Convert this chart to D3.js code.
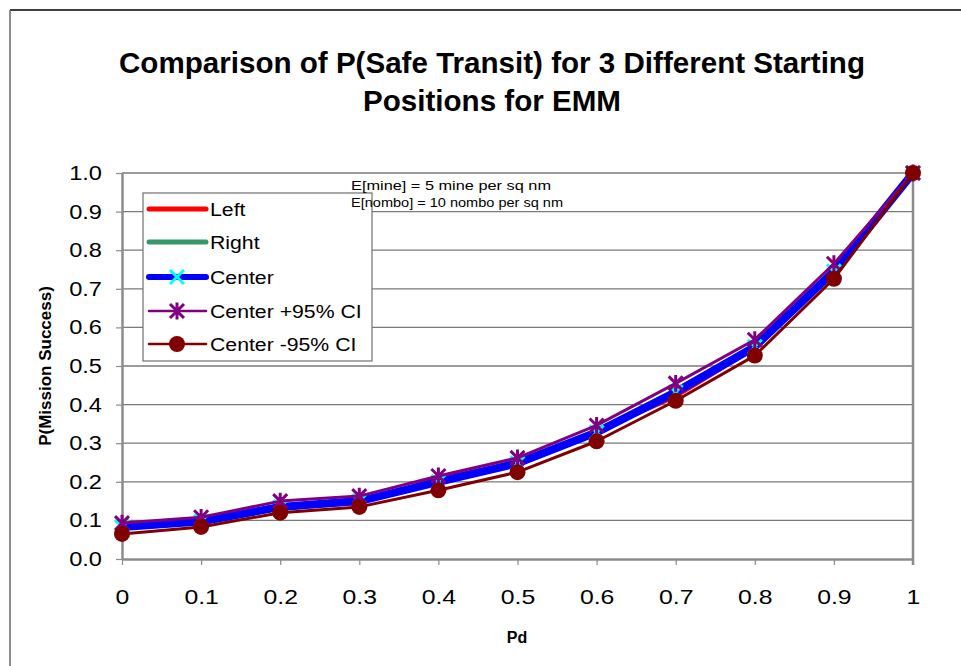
<!DOCTYPE html>
<html><head><meta charset="utf-8">
<script src="https://cdn.jsdelivr.net/npm/d3@7"></script>
<style>body{margin:0;background:#fff}svg{display:block}text{font-family:"Liberation Sans",Arial,sans-serif}</style>
</head><body>
<script>
const pdValues = [0, 0.1, 0.2, 0.3, 0.4, 0.5, 0.6, 0.7, 0.8, 0.9, 1];
const xTickLabels = ["0","0.1","0.2","0.3","0.4","0.5","0.6","0.7","0.8","0.9","1"];
const yTickValues = [0,0.1,0.2,0.3,0.4,0.5,0.6,0.7,0.8,0.9,1.0];
const seriesNames = ["Left","Right","Center","Center +95% CI","Center -95% CI"];
const leftValues   = [0.080, 0.095, 0.130, 0.145, 0.210, 0.250, 0.330, 0.420, 0.545, 0.740, 1.0];
const rightValues  = [0.085, 0.100, 0.140, 0.155, 0.200, 0.255, 0.335, 0.440, 0.555, 0.750, 1.0];
const centerValues = [0.083, 0.097, 0.135, 0.150, 0.200, 0.248, 0.328, 0.432, 0.550, 0.745, 1.0];
const upperValues  = [0.093, 0.108, 0.150, 0.163, 0.215, 0.262, 0.346, 0.455, 0.568, 0.765, 1.0];
const lowerValues  = [0.065, 0.083, 0.120, 0.135, 0.178, 0.225, 0.305, 0.410, 0.527, 0.726, 1.0];
const titleLines = ["Comparison of P(Safe Transit) for 3 Different Starting","Positions for EMM"];
const noteLines = ["E[mine] = 5 mine per sq nm","E[nombo] = 10 nombo per sq nm"];

const styles = [
  {color:"#ff0000", w:3.5, lw:5, marker:null},
  {color:"#339966", w:3, lw:5, marker:null},
  {color:"#0000ff", w:8, lw:6, marker:"x", mcolor:"#00ffff"},
  {color:"#800080", w:3, lw:2.5, marker:"star", mcolor:"#800080"},
  {color:"#800000", w:3, lw:2.5, marker:"circle", mcolor:"#800000"}
];
const allValues = [leftValues,rightValues,centerValues,upperValues,lowerValues];

const W=961,H=666, SX=1.18;
const svg=d3.select("body").append("svg").attr("width",W).attr("height",H);
function stretch(sel,f){sel.each(function(){const l=this.getComputedTextLength();d3.select(this).attr("textLength",l*f).attr("lengthAdjust","spacingAndGlyphs");});}

// frame
svg.append("line").attr("x1",10).attr("x2",W).attr("y1",10).attr("y2",10).attr("stroke","#000").attr("stroke-width",1.5);
svg.append("line").attr("x1",10).attr("x2",10).attr("y1",10).attr("y2",H).attr("stroke","#666").attr("stroke-width",1.5);

const x=d3.scaleLinear().domain([0,1]).range([122,913]);
const y=d3.scaleLinear().domain([0,1]).range([559,173]);

// title
svg.selectAll("text.title").data(titleLines).join("text").attr("class","title")
  .attr("x",492).attr("y",(d,i)=>73+i*38).attr("text-anchor","middle")
  .attr("font-size",29).attr("font-weight","bold").text(d=>d)
  .each(function(d,i){d3.select(this).attr("textLength",i===0?746:258).attr("lengthAdjust","spacingAndGlyphs");});

// gridlines
svg.append("g").selectAll("line").data(yTickValues.slice(1)).join("line")
  .attr("x1",x(0)).attr("x2",x(1)).attr("y1",d=>y(d)).attr("y2",d=>y(d))
  .attr("stroke","#7a7a7a").attr("stroke-width",1.3);
// right border
svg.append("line").attr("x1",x(1)).attr("x2",x(1)).attr("y1",y(1)).attr("y2",y(0)+6).attr("stroke","#8c8c8c").attr("stroke-width",2.5);

// axes
const xAxis=d3.axisBottom(x).tickValues(pdValues).tickFormat((d,i)=>xTickLabels[i]).tickSize(6).tickSizeOuter(0);
const gx=svg.append("g").attr("transform",`translate(0,${y(0)})`).call(xAxis);
gx.select(".domain").attr("stroke","#8c8c8c").attr("stroke-width",2.5);
gx.selectAll(".tick line").attr("stroke","#8c8c8c").attr("stroke-width",1.2);
gx.selectAll(".tick text").attr("font-size",21).attr("fill","#000").attr("y",30).attr("dy","0.71em").attr("font-family","Liberation Sans, Arial, sans-serif").call(stretch,SX);

const yAxis=d3.axisLeft(y).tickValues(yTickValues).tickFormat(d3.format(".1f")).tickSize(6).tickSizeOuter(0);
const gy=svg.append("g").attr("transform",`translate(${x(0)},0)`).call(yAxis);
gy.select(".domain").attr("stroke","#8c8c8c").attr("stroke-width",2.5);
gy.selectAll(".tick line").attr("stroke","#8c8c8c").attr("stroke-width",1.2);
gy.selectAll(".tick text").attr("font-size",20).attr("fill","#000").attr("x",-20).attr("font-family","Liberation Sans, Arial, sans-serif").call(stretch,SX);

// axis titles
svg.append("text").attr("x",517).attr("y",643).attr("text-anchor","middle").attr("font-size",16).attr("font-weight","bold").text("Pd");
svg.append("text").attr("transform",`translate(51,${(y(0)+y(1))/2}) rotate(-90)`).attr("text-anchor","middle").attr("font-size",17).attr("font-weight","bold").text("P(Mission Success)");

// markers
function drawMarker(g,type,cx,cy,color,s){
  if(type==="x"){
    g.append("path").attr("d",`M${cx-s},${cy-s}L${cx+s},${cy+s}M${cx-s},${cy+s}L${cx+s},${cy-s}`).attr("stroke",color).attr("stroke-width",3).attr("fill","none");
  } else if(type==="star"){
    g.append("path").attr("d",`M${cx-s},${cy-s}L${cx+s},${cy+s}M${cx-s},${cy+s}L${cx+s},${cy-s}M${cx},${cy-s*1.2}L${cx},${cy+s*1.2}`).attr("stroke",color).attr("stroke-width",3).attr("fill","none");
  } else if(type==="circle"){
    g.append("circle").attr("cx",cx).attr("cy",cy).attr("r",s+1).attr("fill",color);
  }
}

const line=d3.line().x((d,i)=>x(pdValues[i])).y(d=>y(d));
const plot=svg.append("g");
allValues.forEach((vals,k)=>{
  const st=styles[k];
  const g=plot.append("g");
  g.append("path").datum(vals).attr("d",line).attr("fill","none").attr("stroke",st.color).attr("stroke-width",st.w).attr("stroke-linejoin","round");
  if(st.marker) vals.forEach((v,i)=>drawMarker(g,st.marker,x(pdValues[i]),y(v),st.mcolor,7));
});

// legend
const lg=svg.append("g");
lg.append("rect").attr("x",143).attr("y",193).attr("width",229).attr("height",168).attr("fill","#fff").attr("stroke","#707070").attr("stroke-width",1.2);
const legY=[209,242,277,311,344];
seriesNames.forEach((n,k)=>{
  const st=styles[k];
  lg.append("line").attr("x1",149).attr("x2",206).attr("y1",legY[k]).attr("y2",legY[k]).attr("stroke",st.color).attr("stroke-width",st.lw).attr("stroke-linecap","round");
  if(st.marker) drawMarker(lg,st.marker,177,legY[k],st.mcolor,7);
  lg.append("text").attr("x",210).attr("y",legY[k]+6.5).attr("font-size",18).text(n).call(stretch,SX);
});

// annotation (drawn over legend, as in reference)
svg.selectAll("text.note").data(noteLines).join("text").attr("class","note")
  .attr("x",351).attr("y",(d,i)=>190+i*17).attr("font-size",13.5).text(d=>d)
  .each(function(d,i){d3.select(this).attr("textLength",i===0?200:212).attr("lengthAdjust","spacingAndGlyphs");});
</script>
</body></html>
